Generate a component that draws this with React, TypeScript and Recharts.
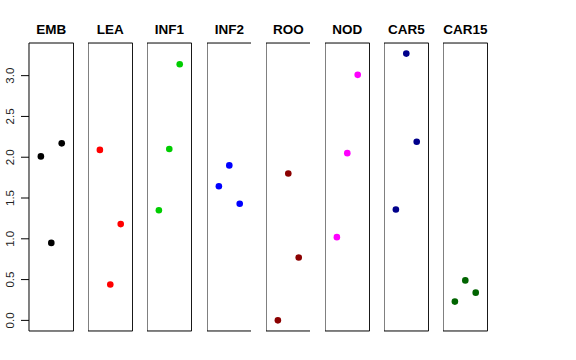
import { ScatterChart, Scatter, XAxis, YAxis, ReferenceArea } from "recharts";

const categories = ["EMB", "LEA", "INF1", "INF2", "ROO", "NOD", "CAR5", "CAR15"];
const positions = [1, 2, 3];

const emb = [2.01, 0.95, 2.17];
const lea = [2.09, 0.44, 1.18];
const inf1 = [1.35, 2.1, 3.14];
const inf2 = [1.645, 1.9, 1.43];
const roo = [0.0, 1.8, 0.77];
const nod = [1.02, 2.05, 3.01];
const car5 = [1.36, 3.27, 2.19];
const car15 = [0.23, 0.49, 0.34];

const seriesValues = [emb, lea, inf1, inf2, roo, nod, car5, car15];
const colors = ["#000000", "#FF0000", "#00CD00", "#0000FF", "#8B0000", "#FF00FF", "#00008B", "#006400"];
const yTicks = [0, 0.5, 1, 1.5, 2, 2.5, 3];

const xDomain: [number, number] = [-0.14, 4.14];
const yDomain: [number, number] = [-0.13, 3.4];
const PANEL_W = 44.6;
const AXIS_W = 29;
const font = "'Liberation Sans', Arial, Helvetica, sans-serif";

function YTick(props: any) {
  const { x, y, payload } = props;
  return (
    <text
      x={x}
      y={y}
      transform={`rotate(-90 ${x} ${y})`}
      textAnchor="middle"
      fontSize={11.5}
      fill="#222"
      fontFamily={font}
    >
      {Number(payload.value).toFixed(1)}
    </text>
  );
}

function Panel({ index }: { index: number }) {
  const first = index === 0;
  const axisW = first ? AXIS_W : 0;
  const left = 29 + index * 59.2;
  const color = colors[index];
  const data = positions.map((x, i) => ({ x, y: seriesValues[index][i] }));
  return (
    <div style={{ position: "absolute", left: left - axisW, top: 0 }}>
      <ScatterChart
        width={PANEL_W + axisW}
        height={360}
        margin={{ top: 43, bottom: 29, left: 0, right: 0 }}
      >
        <XAxis type="number" dataKey="x" domain={xDomain} hide />
        <YAxis
          type="number"
          dataKey="y"
          domain={yDomain}
          ticks={yTicks}
          hide={!first}
          width={axisW}
          axisLine={false}
          tickLine={{ stroke: "#000" }}
          tickSize={8}
          tickMargin={7}
          tick={YTick}
          allowDataOverflow
        />
        <ReferenceArea
          x1={xDomain[0]}
          x2={xDomain[1]}
          y1={yDomain[0]}
          y2={yDomain[1]}
          ifOverflow="visible"
          fill="none"
          fillOpacity={0}
          stroke="#000"
          strokeWidth={1}
          label={{
            value: categories[index],
            position: "top",
            offset: 9,
            fontSize: 13.5,
            fontWeight: "bold",
            fill: "#000",
            fontFamily: font,
          }}
        />
        <Scatter
          data={data}
          fill={color}
          isAnimationActive={false}
          shape={(p: any) => <circle cx={p.cx} cy={p.cy} r={3.3} fill={color} />}
        />
      </ScatterChart>
    </div>
  );
}

export default function App() {
  return (
    <div
      style={{
        position: "absolute",
        left: 0,
        top: 0,
        width: 576,
        height: 360,
        background: "#fff",
        fontFamily: font,
      }}
    >
      {categories.map((c, i) => (
        <Panel key={c} index={i} />
      ))}
    </div>
  );
}
